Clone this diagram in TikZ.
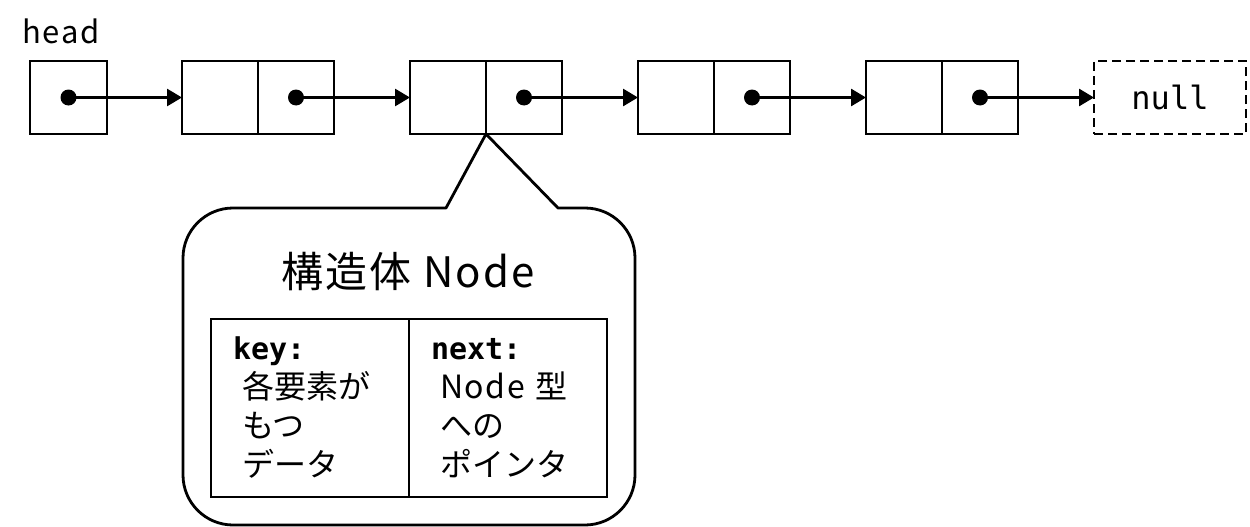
\documentclass[tikz,border=0pt]{standalone}
\usepackage{fontspec}
\setmainfont{Noto Sans CJK JP}
\newfontfamily\jpsans[LetterSpace=5]{Noto Sans CJK JP}
\newfontfamily\monof{DejaVu Sans Mono}
\usetikzlibrary{arrows.meta}
\begin{document}
\begin{tikzpicture}[x=1pt,y=-1pt,
  cell/.style={draw, line width=2.8pt, minimum width=76pt, minimum height=73pt, inner sep=0pt, outer sep=0pt},
  nullbox/.style={cell, dashed, dash pattern=on 9pt off 5pt, minimum width=152pt, font=\monof\fontsize{32}{38}\selectfont},
  ptr/.style={line width=2.8pt, -{Triangle[length=15pt,width=17pt]}},
  dotmark/.style={fill, circle, inner sep=0pt, minimum size=16pt},
  field/.style={draw, line width=2.8pt, minimum width=198pt, minimum height=178pt, inner ysep=0pt, inner xsep=22pt, text width=154pt, align=left, outer sep=0pt, font=\fontsize{32}{39}\selectfont},
  bubble/.style={draw, line width=2.8pt, line join=round}
]
\useasboundingbox (0,0) rectangle (1250,527);
% label
\node[font=\jpsans\fontsize{31}{36}\selectfont] (lbl) at (61,31) {head};
% head pointer
\node[cell, minimum width=77pt] (h) at (68.5,97.5) {};
% list nodes
\node[cell] (a1) at (220,97.5) {}; \node[cell] (b1) at (296,97.5) {};
\node[cell] (a2) at (448,97.5) {}; \node[cell] (b2) at (524,97.5) {};
\node[cell] (a3) at (676,97.5) {}; \node[cell] (b3) at (752,97.5) {};
\node[cell] (a4) at (904,97.5) {}; \node[cell] (b4) at (980,97.5) {};
\node[nullbox] (nl) at (1170,97.5) {null};
% dots
\node[dotmark] (d0) at (h) {};
\node[dotmark] (d1) at (b1) {};
\node[dotmark] (d2) at (b2) {};
\node[dotmark] (d3) at (b3) {};
\node[dotmark] (d4) at (b4) {};
% arrows
\draw[ptr] (d0.center) -- (a1.west);
\draw[ptr] (d1.center) -- (a2.west);
\draw[ptr] (d2.center) -- (a3.west);
\draw[ptr] (d3.center) -- (a4.west);
\draw[ptr] (d4.center) -- (nl.west);
% callout
\draw[bubble] (446,208) -- (a2.south east) -- (558,208) -- (585,208)
  .. controls (612.6,208) and (635,230.4) .. (635,258) -- (635,475)
  .. controls (635,502.6) and (612.6,525) .. (585,525) -- (233,525)
  .. controls (205.4,525) and (183,502.6) .. (183,475) -- (183,258)
  .. controls (183,230.4) and (205.4,208) .. (233,208) -- cycle;
\node[font=\jpsans\fontsize{42}{48}\selectfont] (title) at (408,272) {構造体 Node};
\node[field] (kc) at (310,408) {{\monof\bfseries\fontsize{30}{39}\selectfont key:}\\\hspace*{9pt}各要素が\\\hspace*{9pt}もつ\\\hspace*{9pt}データ};
\node[field] (nc) at (508,408) {{\monof\bfseries\fontsize{30}{39}\selectfont next:}\\\hspace*{9pt}{\jpsans Node} 型\\\hspace*{9pt}への\\\hspace*{9pt}ポインタ};
\end{tikzpicture}
\end{document}
